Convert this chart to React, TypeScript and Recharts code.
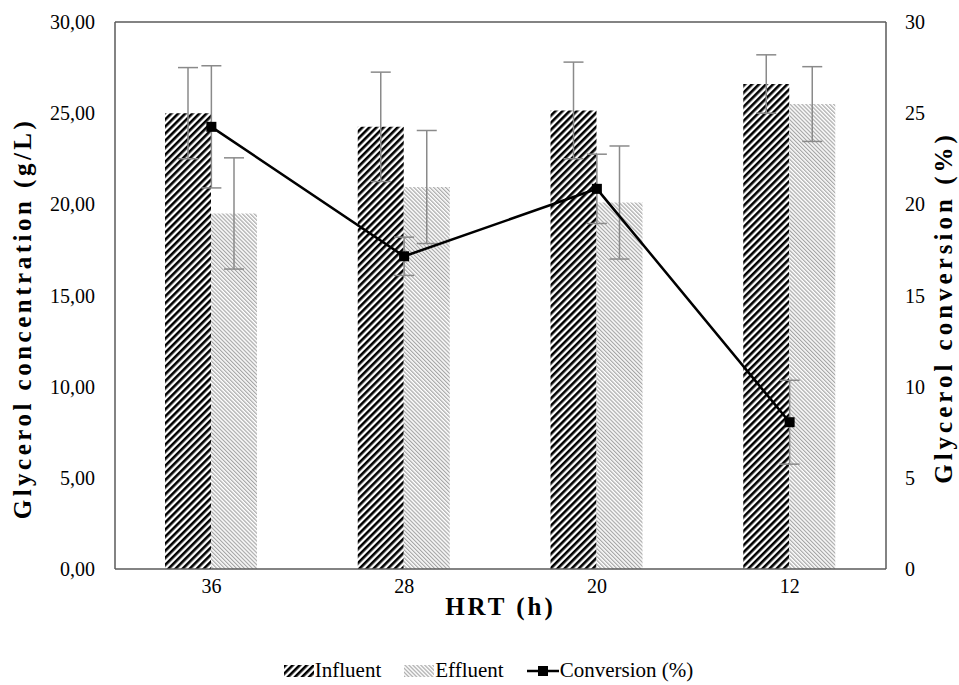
import React from 'react';
import {
  ComposedChart, Bar, Line, XAxis, YAxis, ErrorBar, Legend, ReferenceLine, Label,
} from 'recharts';

const categories = ['36', '28', '20', '12'];
const influent = [25.0, 24.25, 25.15, 26.6];
const influentErr = [2.5, 3.0, 2.65, 1.6];
const effluent = [19.5, 20.95, 20.1, 25.5];
const effluentErr = [3.05, 3.1, 3.1, 2.05];
const conversion = [24.25, 17.15, 20.85, 8.05];
const conversionErr = [3.35, 1.05, 1.9, 2.3];
const leftTicks = [0, 5, 10, 15, 20, 25, 30];
const rightTicks = [0, 5, 10, 15, 20, 25, 30];

const data = categories.map((c, i) => ({
  hrt: c,
  influent: influent[i],
  influentErr: influentErr[i],
  effluent: effluent[i],
  effluentErr: effluentErr[i],
  conversion: conversion[i],
  conversionErr: conversionErr[i],
}));

const FONT = 'Liberation Serif, Times New Roman, serif';
const AXIS = '#5a5a5a';
const ERR = '#8a8a8a';

const Patterns = ({ suffix }: { suffix: string }) => (
  <defs>
    <pattern id={'inf' + suffix} patternUnits="userSpaceOnUse" width="5" height="5" patternTransform="rotate(45)">
      <rect x="0" y="0" width="5" height="5" fill="#fff" />
      <rect x="0" y="0" width="2.6" height="5" fill="#000" />
    </pattern>
    <pattern id={'eff' + suffix} patternUnits="userSpaceOnUse" width="2.8" height="2.8" patternTransform="rotate(-45)">
      <rect x="0" y="0" width="2.8" height="2.8" fill="#fff" />
      <rect x="0" y="0" width="1.2" height="2.8" fill="#a6a6a6" />
    </pattern>
  </defs>
);

const SquareDot = (props: any) => {
  const { cx, cy } = props;
  if (cx == null || cy == null) return null;
  return <rect x={cx - 5} y={cy - 5} width={10} height={10} fill="#000" />;
};

const fmtLeft = (v: number) => v.toFixed(2).replace('.', ',');

const LeftTick = (p: any) => (
  <text x={p.x} y={p.y} dy={7} textAnchor="end" fontFamily={FONT} fontSize={20} fill="#000" style={{ fontFamily: FONT }}>
    {fmtLeft(Number(p.payload.value))}
  </text>
);
const RightTick = (p: any) => (
  <text x={p.x} y={p.y} dy={7} textAnchor="start" fontFamily={FONT} fontSize={20} fill="#000" style={{ fontFamily: FONT }}>
    {p.payload.value}
  </text>
);
const BottomTick = (p: any) => (
  <text x={p.x} y={p.y} dy={14} textAnchor="middle" fontFamily={FONT} fontSize={20} fill="#000" style={{ fontFamily: FONT }}>
    {p.payload.value}
  </text>
);

const LegendContent = () => (
  <div style={{ display: 'flex', justifyContent: 'center', alignItems: 'center', paddingLeft: 18, paddingTop: 13, fontFamily: FONT, fontSize: 21, color: '#000' }}>
    <svg width={30} height={12} style={{ marginRight: 1 }}>
      <Patterns suffix="L" />
      <rect x={0} y={0} width={30} height={12} fill="url(#infL)" />
    </svg>
    <span style={{ marginRight: 23, fontFamily: FONT }}>Influent</span>
    <svg width={30} height={12} style={{ marginRight: 1 }}>
      <Patterns suffix="L2" />
      <rect x={0} y={0} width={30} height={12} fill="url(#effL2)" />
    </svg>
    <span style={{ marginRight: 23, fontFamily: FONT }}>Effluent</span>
    <svg width={32} height={12} style={{ marginRight: 1 }}>
      <line x1={0} y1={6} x2={32} y2={6} stroke="#000" strokeWidth={2.5} />
      <rect x={11} y={1} width={10} height={10} fill="#000" />
    </svg>
    <span style={{ fontFamily: FONT }}>Conversion (%)</span>
  </div>
);

export default function App() {
  return (
    <div style={{ position: 'absolute', left: 0, top: 0, background: '#fff', fontFamily: FONT }}>
      <ComposedChart
        width={959}
        height={685}
        data={data}
        margin={{ top: 22, right: 0, bottom: 0, left: 0 }}
        barGap={0}
        barCategoryGap="26%"
        style={{ fontFamily: FONT }}
      >
        <Patterns suffix="" />
        <XAxis
          dataKey="hrt"
          height={76}
          tickLine={false}
          tickSize={8}
          axisLine={{ stroke: AXIS, strokeWidth: 1.5 }}
          tick={<BottomTick />}
        >
          <Label
            content={(p: any) => {
              const vb = p.viewBox;
              return (
                <text x={vb.x + vb.width / 2} y={vb.y + 46} textAnchor="middle" fontFamily={FONT} fontWeight="bold" fontSize={25} letterSpacing={3} fill="#000" style={{ fontFamily: FONT }}>
                  HRT (h)
                </text>
              );
            }}
          />
        </XAxis>
        <YAxis
          yAxisId="left"
          domain={[0, 30]}
          ticks={leftTicks}
          width={115}
          tickLine={false}
          tickSize={12}
          tickMargin={8}
          axisLine={{ stroke: AXIS, strokeWidth: 1.5 }}
          tick={<LeftTick />}
        >
          <Label
            content={(p: any) => {
              const vb = p.viewBox;
              const cx = 22;
              const cy = vb.y + vb.height / 2 + 23;
              return (
                <text x={cx} y={cy} transform={`rotate(-90 ${cx} ${cy})`} textAnchor="middle" dominantBaseline="central" fontFamily={FONT} fontWeight="bold" fontSize={25} letterSpacing={3.5} fill="#000" style={{ fontFamily: FONT }}>
                  Glycerol concentration (g/L)
                </text>
              );
            }}
          />
        </YAxis>
        <YAxis
          yAxisId="right"
          orientation="right"
          domain={[0, 30]}
          ticks={rightTicks}
          width={73}
          tickLine={false}
          tickSize={12}
          tickMargin={7}
          axisLine={{ stroke: AXIS, strokeWidth: 1.5 }}
          tick={<RightTick />}
        >
          <Label
            content={(p: any) => {
              const vb = p.viewBox;
              const cx = 943;
              const cy = vb.y + vb.height / 2 + 12;
              return (
                <text x={cx} y={cy} transform={`rotate(-90 ${cx} ${cy})`} textAnchor="middle" dominantBaseline="central" fontFamily={FONT} fontWeight="bold" fontSize={25} letterSpacing={4} fill="#000" style={{ fontFamily: FONT }}>
                  Glycerol conversion (%)
                </text>
              );
            }}
          />
        </YAxis>
        <ReferenceLine yAxisId="left" y={30} stroke={AXIS} strokeWidth={1.5} />
        <Bar yAxisId="left" dataKey="influent" name="Influent" fill="url(#inf)" barSize={46} isAnimationActive={false}>
          <ErrorBar dataKey="influentErr" width={10} stroke={ERR} strokeWidth={1.5} />
        </Bar>
        <Bar yAxisId="left" dataKey="effluent" name="Effluent" fill="url(#eff)" barSize={46} isAnimationActive={false}>
          <ErrorBar dataKey="effluentErr" width={10} stroke={ERR} strokeWidth={1.5} />
        </Bar>
        <Line
          yAxisId="right"
          dataKey="conversion"
          name="Conversion (%)"
          stroke="#000"
          strokeWidth={2.5}
          dot={<SquareDot />}
          activeDot={false}
          isAnimationActive={false}
        >
          <ErrorBar dataKey="conversionErr" width={10} stroke={ERR} strokeWidth={1.5} direction="y" />
        </Line>
        <Legend verticalAlign="bottom" height={40} content={<LegendContent />} />
      </ComposedChart>
    </div>
  );
}
